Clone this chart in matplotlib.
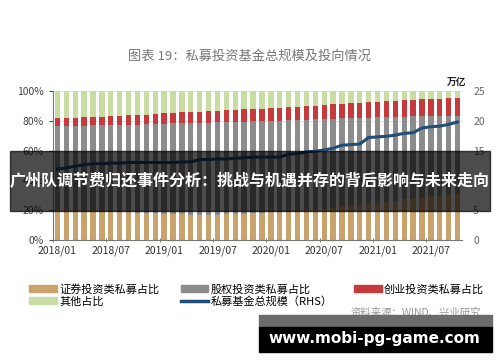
import matplotlib
matplotlib.use("Agg")
import matplotlib.pyplot as plt
from matplotlib.patches import Rectangle, Patch
from matplotlib.lines import Line2D
import numpy as np

plt.rcParams['font.family'] = ['Noto Sans CJK SC', 'DejaVu Sans']

# 月份 2018/01 - 2021/10
months = [f"{y}/{m:02d}" for y in range(2018, 2022) for m in range(1, 13)][:46]
tick_labels = ["2018/01", "2018/07", "2019/01", "2019/07",
               "2020/01", "2020/07", "2021/01", "2021/07"]

# 各类私募占比 (%)
sec_share = [20.1, 19.8, 19.6, 19.5, 19.3, 19.1, 18.9, 18.8, 18.6, 18.3, 18.1, 17.8,
             17.5, 17.3, 17.2, 17.1, 17.0, 17.0, 17.1, 17.3, 17.4, 17.6, 17.9, 18.3,
             18.6, 18.8, 18.9, 19.3, 19.8, 20.3, 20.9, 21.8, 22.5, 23.0, 23.6, 24.2,
             25.0, 25.7, 26.5, 27.2, 27.9, 28.5, 29.2, 29.8, 30.4, 31.0]
eq_share = [56.6, 56.7, 57.0, 57.3, 57.6, 57.9, 58.3, 58.5, 58.9, 59.2, 59.5, 60.0,
            60.5, 60.9, 61.2, 61.4, 61.7, 61.8, 61.9, 61.8, 61.8, 61.8, 61.7, 61.5,
            61.4, 61.3, 61.4, 61.3, 61.0, 60.7, 60.3, 59.7, 59.2, 58.8, 58.4, 58.0,
            57.3, 56.8, 56.1, 55.6, 55.0, 54.5, 53.9, 53.4, 52.9, 52.4]
vc_share = [5.3, 5.3, 5.4, 5.5, 5.6, 5.8, 6.0, 6.2, 6.3, 6.5, 6.6, 6.8,
            7.0, 7.2, 7.2, 7.3, 7.4, 7.6, 7.7, 7.9, 8.1, 8.2, 8.3, 8.4,
            8.4, 8.6, 8.7, 8.8, 9.0, 9.2, 9.4, 9.5, 9.7, 9.9, 10.0, 10.2,
            10.5, 10.6, 10.8, 10.9, 11.1, 11.3, 11.5, 11.7, 11.9, 12.1]
other_share = [18.0, 18.2, 18.0, 17.7, 17.5, 17.2, 16.8, 16.5, 16.2, 16.0, 15.8, 15.4,
               15.0, 14.6, 14.4, 14.2, 13.9, 13.6, 13.3, 13.0, 12.7, 12.4, 12.1, 11.8,
               11.6, 11.3, 11.0, 10.6, 10.2, 9.8, 9.4, 9.0, 8.6, 8.3, 8.0, 7.6,
               7.2, 6.9, 6.6, 6.3, 6.0, 5.7, 5.4, 5.1, 4.8, 4.5]
# 私募基金总规模 (万亿)
total_scale = [11.9, 12.1, 12.4, 12.6, 12.8, 12.8, 12.9, 12.9, 13.0, 13.0, 13.0, 13.0,
               13.0, 13.0, 13.1, 13.1, 13.5, 13.5, 13.6, 13.6, 13.7, 13.8, 13.9, 13.9,
               13.9, 13.9, 14.4, 14.5, 14.8, 14.9, 15.1, 15.4, 15.9, 16.0, 16.1, 17.2,
               17.3, 17.4, 17.6, 17.9, 18.0, 18.8, 19.0, 19.1, 19.4, 19.8]

c_sec, c_eq, c_vc, c_oth, c_line = "#c9a26c", "#8c8c8c", "#c6393d", "#c8dca4", "#1f4e79"

fig = plt.figure(figsize=(5, 3.62), dpi=100)
ax = fig.add_axes([53/500, 1-240/362, 409/500, 149/362])

x = np.arange(len(months))
w = 0.6
sec = np.array(sec_share); eq = np.array(eq_share); vc = np.array(vc_share)
ax.bar(x, sec, w, color=c_sec, zorder=2)
ax.bar(x, eq, w, bottom=sec, color=c_eq, zorder=2)
ax.bar(x, vc, w, bottom=sec+eq, color=c_vc, zorder=2)
ax.bar(x, other_share, w, bottom=sec+eq+vc, color=c_oth, zorder=2)

ax.set_xlim(-0.5, len(months)-0.5)
ax.set_ylim(0, 100)
ax.set_yticks(range(0, 101, 20))
ax.set_yticklabels([f"{v}%" for v in range(0, 101, 20)])
ax.yaxis.grid(True, color="#dddddd", lw=0.6, zorder=0)
ax.set_xticks([months.index(t) for t in tick_labels])
ax.set_xticklabels(tick_labels)
ax.set_xticks(np.arange(-0.5, len(months), 6), minor=True)
ax.tick_params(axis='x', which='major', length=0, labelsize=7.5, colors="#333333", pad=4)
ax.tick_params(axis='x', which='minor', length=3, direction='inout', color="#666666")
ax.tick_params(axis='y', length=3, labelsize=7.5, colors="#444444", direction='out')
for s in ['top', 'right']:
    ax.spines[s].set_visible(False)
ax.spines['left'].set_color("#777777")
ax.spines['bottom'].set_color("#777777")

ax2 = ax.twinx()
ax2.plot(x, total_scale, color=c_line, lw=2.2, zorder=3)
ax2.set_ylim(0, 25)
ax2.set_yticks(range(0, 26, 5))
ax2.tick_params(axis='y', length=0, labelsize=7.5, colors="#666666", pad=8)
for s in ['top', 'right', 'left', 'bottom']:
    ax2.spines[s].set_visible(False)

fig.text(0.5, 1-56/362, "图表 19：私募投资基金总规模及投向情况", ha='center', va='center',
         fontsize=9.5, color="#777777")
fig.text(457/500, 1-82/362, "万亿", ha='center', va='center', fontsize=7,
         fontweight='bold', color="#222222")

handles = [Patch(color=c_sec), Patch(color=c_oth), Patch(color=c_eq),
           Line2D([], [], color=c_line, lw=2.5), Patch(color=c_vc)]
labels = ["证券投资类私募占比", "其他占比", "股权投资类私募占比",
          "私募基金总规模（RHS）", "创业投资类私募占比"]
fig.legend(handles, labels, ncol=3, loc='upper left', bbox_to_anchor=(0.05, 1-279/362),
           frameon=False, fontsize=8, handlelength=2.5, handleheight=0.6,
           columnspacing=1.9, handletextpad=0.2, labelspacing=0.15, borderaxespad=0)

fig.text(481/500, 1-313/362, "资料来源：WIND、兴业研究", ha='right', va='center',
         fontsize=7.5, color="#999999")

# 覆盖横幅
fig.patches.append(Rectangle((10/500, 1-211/362), 480/500, 60/362, transform=fig.transFigure,
                             color="black", alpha=0.7, zorder=10))
fig.text(0.5, 1-181/362, "广州队调节费归还事件分析：挑战与机遇并存的背后影响与未来走向",
         ha='center', va='center', fontsize=11.5, fontweight='bold', color="white", zorder=11)

fig.patches.append(Rectangle((259/500, 1-327/362), 233/500, 12/362, transform=fig.transFigure,
                             color="#6b6b6b", zorder=10))
fig.patches.append(Rectangle((259/500, 1-352/362), 233/500, 25/362, transform=fig.transFigure,
                             color="black", zorder=10))
fig.text(374/500, 1-339/362, "www.mobi-pg-game.com", ha='center', va='center',
         fontsize=11, fontweight='bold', color="white", family='DejaVu Sans', zorder=11)

fig.savefig("out.png", dpi=100)
